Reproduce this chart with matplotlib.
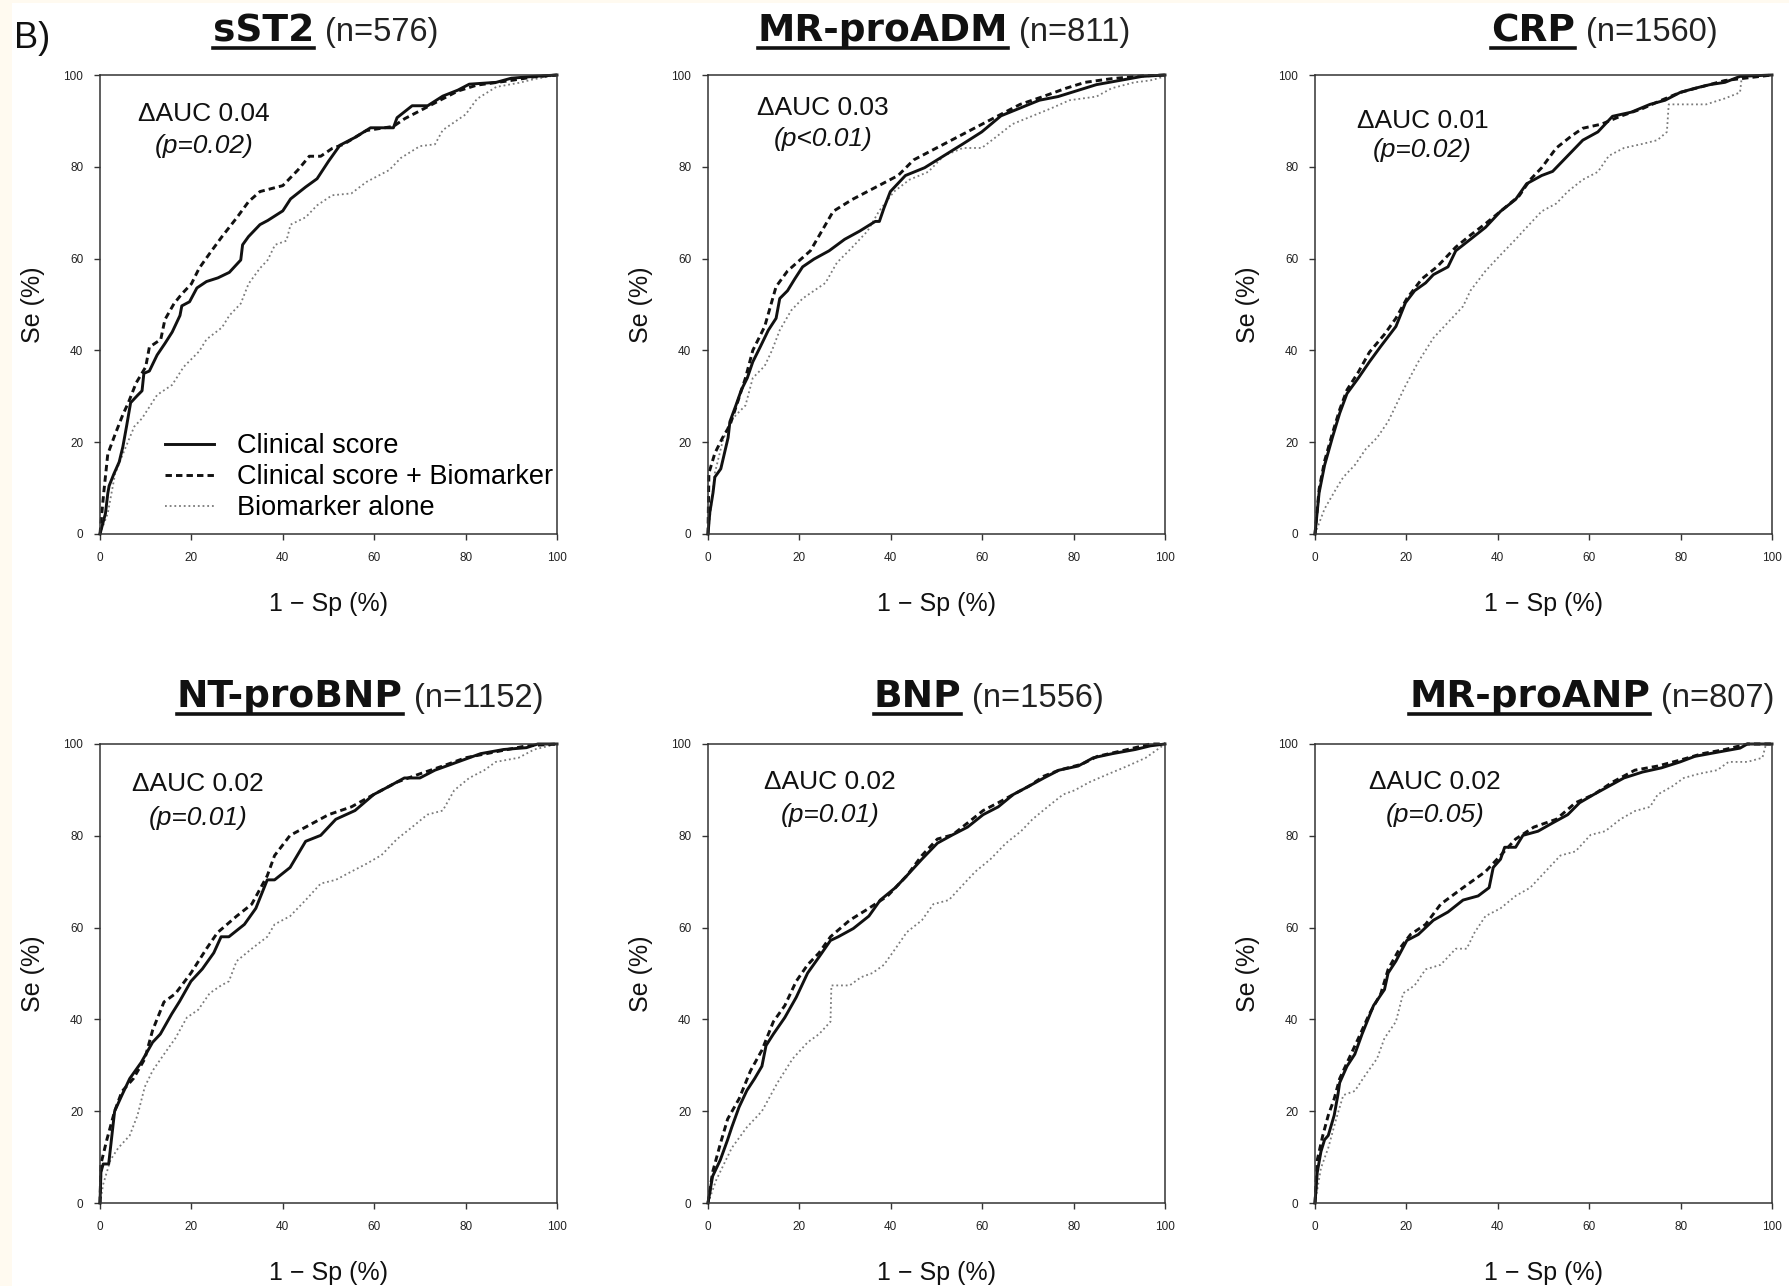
import matplotlib
matplotlib.use('Agg')
import matplotlib.pyplot as plt
from matplotlib.lines import Line2D
from matplotlib.patches import Rectangle

plt.rcParams['font.family'] = ['Liberation Sans', 'DejaVu Sans']

# ROC points: (1 - Sp %, Se %)
sst2_clin = [(0, 0), (1.2, 4.5), (1.7, 8.8), (2, 10.5), (3, 13), (4.2, 15.7), (5, 19), (5.8, 23.4),
             (6.7, 28.6), (8.3, 30.3), (9.2, 31.2), (9.6, 35), (10.8, 35.5), (12.5, 39), (14.2, 41.5),
             (15.8, 44), (17.5, 47.6), (17.9, 49.7), (19.6, 50.6), (21.2, 53.6), (23.3, 55), (25.8, 55.8),
             (28.3, 57), (30.8, 59.7), (31.2, 63), (32.5, 64.8), (35, 67.4), (36.7, 68.3), (40, 70.4),
             (41.7, 73), (45, 75.6), (47.5, 77.4), (50, 81.2), (52.5, 84.7), (55.8, 86.4), (59.2, 88.5),
             (64.2, 88.5), (65, 90.7), (68.3, 93.3), (71.7, 93.3), (75, 95.4), (78.3, 96.7), (80.8, 98),
             (86.7, 98.4), (90, 99.3), (95, 99.7), (100, 100)]
sst2_comb = [(0, 0), (0.4, 4.5), (0.8, 8.8), (1.7, 17.4), (3.3, 21.7), (5, 26), (6.2, 28.6), (7.9, 32.9),
             (10, 36.4), (10.8, 40.7), (13.3, 42.4), (14.2, 46.7), (16.2, 50.2), (17.9, 52.3), (20, 54.5),
             (21.7, 57.9), (24.2, 61.4), (26.7, 64.8), (30, 69), (32.5, 72.4), (35, 74.6), (40, 75.9),
             (43.3, 79.3), (45.8, 82.3), (48.3, 82.3), (50.8, 84), (53.3, 84.9), (58.3, 87.9), (64.2, 88.8),
             (66.7, 90.5), (70, 92.2), (74.2, 94.4), (78.3, 96.5), (82.5, 97.8), (89.2, 98.7), (95, 99.6),
             (100, 100)]
sst2_bio = [(0, 0), (1.7, 4.5), (3.3, 13.1), (5, 17.4), (7.5, 23.4), (9.2, 25.2), (12.5, 30.3), (15.8, 32.5),
            (18.3, 36.4), (21.7, 39.8), (23.3, 42.4), (26.7, 45), (28.3, 47.6), (30.8, 50.2), (32.5, 54.5),
            (35, 57.9), (36.7, 59.7), (38.3, 63), (40.8, 63.9), (41.7, 67.4), (45, 69), (47.5, 71.6),
            (50.8, 73.8), (55, 74.2), (58.3, 76.7), (63.3, 79.3), (65.8, 81.9), (70, 84.5), (73.3, 84.9),
            (75, 88), (80, 91.4), (82.5, 94.8), (86.7, 97.4), (91.7, 98.3), (95, 99.1), (100, 100)]

adm_clin = [(0, 0), (0.4, 4.7), (1.1, 9), (1.5, 12.4), (2.8, 14.2), (3.6, 17.6), (4.4, 21), (4.8, 24.5),
            (6.1, 28), (7.3, 31.4), (8.6, 34), (9.8, 37.5), (11.5, 40.9), (13.2, 44.4), (14.9, 47),
            (15.7, 51.3), (17.4, 53), (19, 55.6), (20.7, 58.2), (23.2, 59.9), (26.5, 61.7), (29.9, 64.2),
            (33.2, 66), (36.6, 68.1), (37.5, 68.1), (38.5, 71), (39.9, 74.6), (43.2, 78.1), (47.4, 79.8),
            (51.6, 82.4), (55.8, 85), (59.9, 87.6), (64.1, 91.1), (68.3, 92.8), (72.5, 94.5), (76.6, 95.3),
            (80.8, 96.6), (85, 97.9), (90, 98.8), (95, 99.7), (100, 100)]
adm_comb = [(0, 0), (0.2, 13.3), (1.5, 17.6), (3.2, 21), (4.8, 23.7), (6.5, 28.8), (8.2, 34), (9.8, 40),
            (12.4, 45.2), (14.9, 53.9), (17.4, 57.3), (19.9, 59.5), (22.4, 61.7), (24.9, 66), (27.4, 70.3),
            (31.6, 72.9), (36.6, 75.5), (41.6, 78.1), (45, 81.5), (50, 84.1), (55, 86.7), (60, 89.3),
            (65, 91.9), (68.3, 93.6), (73.3, 95.3), (78.3, 97.1), (82.5, 98.4), (88.3, 99.2), (95, 99.8),
            (100, 100)]
adm_bio = [(0, 0), (1.5, 13.3), (3.2, 20.2), (4.8, 24.5), (6.5, 26.3), (8.2, 28), (9.8, 34), (12.4, 36.6),
           (14, 40), (15.7, 44.4), (18.2, 48.7), (20.7, 51.3), (23.2, 53), (25.7, 54.7), (28.2, 59.1),
           (31.6, 62.5), (34.9, 66), (37.4, 70.3), (40.7, 74.6), (44.1, 77.2), (48.2, 78.9), (51.6, 82.4),
           (55.8, 84.1), (59.9, 84.1), (63.3, 86.7), (66.6, 89.3), (70.8, 91), (75, 92.7), (79.1, 94.5),
           (85, 95.3), (88.3, 97.1), (93.3, 98.4), (96.7, 98.8), (100, 99.7)]

crp_clin = [(0, 0), (0.9, 9), (2.1, 15), (3.8, 21), (5.4, 26.3), (7, 30.6), (9.5, 34), (11.9, 37.5),
            (14.4, 40.9), (17.7, 45.2), (19.8, 50.4), (21.8, 53), (24.2, 54.7), (25.9, 56.5), (29.1, 58.2),
            (30.8, 61.7), (34, 64.2), (37.3, 66.8), (40.6, 70.3), (43.9, 72.9), (46.3, 76.3), (49.6, 78.1),
            (52, 79), (55.3, 82.4), (58.6, 85.8), (61.9, 87.6), (65.1, 91), (69.2, 91.9), (73.3, 93.6),
            (76.6, 94.5), (79.9, 96.2), (83.1, 97.1), (86.4, 97.9), (89.7, 98.4), (93, 99.7), (100, 100)]
crp_comb = [(0, 0), (0.9, 9.8), (2.1, 15.9), (3.8, 21.9), (5.4, 27.1), (7, 31.4), (9.5, 35.3), (11.9, 39.6),
            (15.2, 43.5), (17.7, 47), (20.1, 51.3), (23.4, 55.6), (26.7, 58.2), (30.8, 62.5), (34, 65.1),
            (37.3, 67.6), (40.6, 70.3), (44.7, 73.7), (47.1, 77.2), (49.6, 79.8), (52.8, 84.1), (56.1, 86.7),
            (58.6, 88.4), (62.7, 89.3), (66.8, 91), (71.7, 92.7), (75.8, 94.5), (79.9, 96.2), (84.8, 97.5),
            (89.7, 98.8), (100, 100)]
crp_bio = [(0, 0), (2.1, 5.5), (4.6, 9.8), (6.2, 12.4), (8.7, 15), (11.1, 18.5), (13.6, 21), (16, 24.5),
           (17.7, 28), (19.8, 32.3), (22.6, 37.5), (25.9, 42.7), (29.1, 46.1), (32.4, 49.6), (34, 53),
           (37.3, 57.3), (40.6, 60.8), (43.9, 64.2), (46.3, 66.8), (49.6, 70.3), (52.8, 72), (55.3, 74.6),
           (58.6, 77.2), (61.9, 78.9), (64.3, 82.4), (67.6, 84.1), (71.7, 85), (74.9, 85.8), (77, 87.6),
           (77.4, 93.6), (85.6, 93.6), (89.7, 94.9), (93, 96.2), (93.4, 99.7), (100, 100)]

ntp_clin = [(0, 0), (0.2, 6.7), (0.7, 8.5), (1.9, 8.5), (3.2, 20), (4.8, 23.5), (6.5, 27.1), (9, 30.6),
            (11.5, 35), (13.2, 36.8), (15.7, 41.2), (17.4, 43.9), (19.9, 48.3), (22.4, 51), (24.9, 54.5),
            (26.5, 58), (28.2, 58), (31.6, 60.7), (34.1, 64.2), (36.6, 70.4), (38.2, 70.4), (41.6, 73.1),
            (45, 78.8), (48.3, 80.1), (51.6, 83.6), (55.8, 85.5), (59.9, 89), (63.3, 90.8), (66.6, 92.6),
            (70, 92.6), (73.3, 94.3), (78.3, 96.1), (83.3, 97.9), (88.3, 98.8), (93.3, 99.2), (95.8, 100),
            (100, 100)]
ntp_comb = [(0, 0), (0.2, 8.5), (1.5, 13.8), (3.2, 20), (4.8, 24.3), (7.3, 27.1), (9.8, 31.4), (11.5, 37.6),
            (14, 43.8), (16.5, 45.6), (19.9, 50.1), (23.3, 55.4), (25.7, 58.9), (29.9, 62.5), (33.2, 65.1),
            (36.6, 71.3), (38.2, 75.7), (41.6, 80.1), (45, 81.9), (50, 84.6), (55, 86.3), (59.9, 89),
            (65, 91.7), (70, 93.5), (75, 95.2), (80, 97), (86.6, 98.3), (93.3, 99.6), (100, 100)]
ntp_bio = [(0, 0), (0.7, 4.1), (2.3, 9.4), (4, 12), (6.5, 14.7), (8.2, 19.1), (9.8, 25.3), (11.5, 28.8),
           (14, 32.4), (16.5, 35.9), (19, 40.4), (21.5, 42.1), (24, 45.7), (26.5, 47.4), (28.2, 48.3),
           (29.9, 52.7), (33.2, 55.4), (36.6, 58), (38.2, 60.7), (41.6, 62.5), (45, 66), (48.3, 69.6),
           (51.6, 70.4), (55, 72.2), (58.3, 73.9), (61.6, 75.8), (65, 79.3), (68.3, 81.9), (71.6, 84.6),
           (75, 85.5), (77.5, 89.9), (80.8, 92.6), (84.1, 94.3), (86.6, 96.1), (91.6, 97), (95, 98.8),
           (100, 100)]

bnp_clin = [(0, 0), (1, 5.8), (2.7, 9.4), (4.3, 13.8), (5.2, 16.5), (6.8, 20.9), (8.5, 24.5), (10.2, 27.1),
            (11.8, 29.8), (12.7, 34.3), (14.3, 36.8), (16.8, 40.4), (19.3, 44.8), (21.8, 50.1), (24.3, 53.6),
            (26.8, 57.2), (28.5, 58), (31.8, 59.8), (35.2, 62.5), (37.7, 66), (41, 68.7), (43.5, 71.3),
            (46.8, 74.9), (50.2, 78.4), (53.5, 80.2), (56.8, 81.9), (60.2, 84.6), (63.5, 86.3), (66.8, 89),
            (70.2, 90.8), (73.5, 92.6), (76.8, 94.3), (81, 95.2), (84.3, 97), (88.5, 97.9), (93.5, 98.8),
            (96.8, 99.6), (100, 100)]
bnp_comb = [(0, 0), (1, 6.7), (2.7, 12.9), (4.3, 18.3), (6.8, 22.7), (9.3, 28.8), (11.8, 33.3), (14.3, 39.5),
            (16.8, 43), (19.3, 48.3), (21.8, 51.9), (24.3, 54.5), (26.8, 58), (31, 61.6), (35.2, 64.2),
            (39.3, 66.9), (43.5, 71.3), (46.8, 75.7), (50.2, 79.3), (53.5, 80.2), (56.8, 82.8), (60.2, 85.5),
            (63.5, 87.2), (66.8, 89), (70.2, 90.8), (73.5, 93), (76.8, 94.3), (81.8, 95.6), (85.2, 97.3),
            (91.8, 98.8), (96.8, 100), (100, 100)]
bnp_bio = [(0, 0), (1.8, 5), (5.2, 12), (8.5, 16.5), (11.8, 20), (15.2, 26.2), (18.5, 31.4), (21.8, 35),
           (24.3, 36.8), (26.8, 39.5), (27, 47.4), (31, 47.4), (33.5, 49.2), (36, 50.1), (38.5, 51.9),
           (41, 55.4), (43.5, 59), (46.8, 61.6), (49.3, 65.1), (52.7, 66), (55.2, 68.7), (58.5, 72.2),
           (61.8, 74.9), (65.2, 78.4), (68.5, 81), (71, 83.6), (74.3, 86.3), (77.7, 89), (80.2, 89.9),
           (83.5, 91.7), (87.7, 93.5), (91.8, 95.2), (95.8, 97), (100, 100)]

anp_clin = [(0, 0), (0.5, 6.7), (1.3, 11.2), (2.1, 13.8), (2.9, 14.7), (4.2, 19.1), (5, 23.5), (5.4, 26.2),
            (7, 29.8), (8.7, 32.4), (10.3, 36.8), (12.8, 43), (15.2, 46.5), (16, 50.1), (17.7, 52.7),
            (20.1, 57.2), (22.6, 58.5), (25.9, 61.6), (29.1, 63.4), (32.4, 66), (35.7, 66.9), (38.1, 68.7),
            (39, 73.1), (40.6, 74.9), (41.5, 77.5), (43.9, 77.5), (45.5, 80.1), (48.8, 81), (52, 82.8),
            (55.3, 84.6), (57.9, 87.2), (61, 89), (64.3, 90.8), (67.6, 92.6), (71.7, 93.9), (75.8, 94.8),
            (79.9, 96.1), (83.1, 97.3), (88, 98.2), (93, 99.1), (94.6, 100), (100, 100)]
anp_comb = [(0, 0), (0.5, 9.4), (1.7, 14.7), (2.9, 19.1), (4.2, 22.7), (5.4, 27.1), (7.4, 31.4), (9.5, 35.9),
            (11.9, 41.2), (14.4, 45.6), (16, 50.9), (18.5, 55.4), (20.9, 58.5), (24.2, 60.7), (27.5, 65.1),
            (32.4, 68.7), (37.3, 72.2), (40.6, 75.7), (43.9, 79.3), (47.9, 81.9), (52.8, 83.6), (57, 87.2),
            (61, 89), (65.1, 91.7), (70, 94.3), (75, 95.2), (79.9, 96.5), (84.8, 97.9), (89.7, 98.8),
            (94.6, 100), (100, 100)]
anp_bio = [(0, 0), (1.3, 7.6), (2.9, 12), (4.6, 18.2), (6.2, 23.5), (8.7, 24.4), (11.1, 28), (13.6, 31.5),
           (15.2, 35.9), (17.7, 39.5), (19.3, 45.7), (21.8, 47.4), (24.2, 50.9), (27.5, 51.9), (30.8, 55.4),
           (33.2, 55.4), (34.9, 58.9), (37.3, 62.5), (40.6, 64.2), (43.9, 66.9), (47.1, 68.7), (50.4, 72.2),
           (53.7, 75.7), (57, 76.6), (60.3, 80.2), (63.5, 81), (66.8, 83.6), (70, 85.4), (73.3, 86.3),
           (75, 89), (78.2, 90.8), (80.7, 92.6), (84, 93.5), (88, 94.3), (90.5, 96.1), (94.6, 96.1),
           (97.9, 97), (98.7, 100), (100, 100)]

markers = ['sST2', 'MR-proADM', 'CRP', 'NT-proBNP', 'BNP', 'MR-proANP']
n_pat = [576, 811, 1560, 1152, 1556, 807]
delta_auc = ['0.04', '0.03', '0.01', '0.02', '0.02', '0.02']
p_vals = ['p=0.02', 'p<0.01', 'p=0.02', 'p=0.01', 'p=0.01', 'p=0.05']
clin_curves = [sst2_clin, adm_clin, crp_clin, ntp_clin, bnp_clin, anp_clin]
comb_curves = [sst2_comb, adm_comb, crp_comb, ntp_comb, bnp_comb, anp_comb]
bio_curves = [sst2_bio, adm_bio, crp_bio, ntp_bio, bnp_bio, anp_bio]

W, H = 1789, 1286
# axes boxes in pixels: left, top, width, height
col_left = [100, 708, 1315]
col_w = 457
row_top = [75, 744]
row_h = 459
title_cx = [326, 944, 1604, 360, 989, 1592]
title_base = [41, 41, 41, 707, 707, 707]
note_pos = [(22.7, 91.5, 84.6), (25.2, 92.8, 86), (23.5, 90, 83.7),
            (21.5, 91.2, 83.8), (26.7, 91.8, 84.6), (26.2, 91.8, 84.6)]

INK = '#111111'

fig = plt.figure(figsize=(W / 100, H / 100), dpi=100)
fig.patch.set_facecolor('white')
fig.patches.append(Rectangle((0, 0), 12 / W, 1, transform=fig.transFigure,
                             facecolor='#fffaf0', edgecolor='none', zorder=-5))
fig.patches.append(Rectangle((0, 1 - 3 / H), 1, 3 / H, transform=fig.transFigure,
                             facecolor='#fffaf0', edgecolor='none', zorder=-5))

renderer = fig.canvas.get_renderer()

for i in range(6):
    l = col_left[i % 3]
    t = row_top[i // 3]
    ax = fig.add_axes([l / W, 1 - (t + row_h) / H, col_w / W, row_h / H])

    for pts, ls, lw, col in [(bio_curves[i], ':', 1.3, '#7a7a7a'),
                             (comb_curves[i], '--', 2.1, INK),
                             (clin_curves[i], '-', 2.1, INK)]:
        xs = [p[0] for p in pts]
        ys = [p[1] for p in pts]
        line, = ax.plot(xs, ys, linestyle=ls, lw=lw, color=col, clip_on=False)
        if ls == '--':
            line.set_dashes((2.2, 1.4))
        if ls == ':':
            line.set_dashes((1, 1.6))

    ax.set_xlim(0, 100)
    ax.set_ylim(0, 100)
    ax.set_xticks(range(0, 101, 20))
    ax.set_yticks(range(0, 101, 20))
    ax.tick_params(direction='out', length=4, width=1, labelsize=8.5,
                   colors='#333333', labelcolor='#222222')
    ax.tick_params(axis='x', pad=9)
    ax.tick_params(axis='y', pad=8)
    for sp in ax.spines.values():
        sp.set_linewidth(1.1)
        sp.set_color('#333333')
    ax.set_xlabel('1 \u2212 Sp (%)', fontsize=18, color=INK, labelpad=20)
    ax.set_ylabel('Se (%)', fontsize=18, color=INK, labelpad=13)

    nx, ny1, ny2 = note_pos[i]
    ax.text(nx, ny1, '\u0394AUC ' + delta_auc[i], fontsize=19, color=INK,
            ha='center', va='center')
    ax.text(nx, ny2, '(' + p_vals[i] + ')', fontsize=19, color=INK,
            ha='center', va='center', style='italic')

    # title: bold underlined marker name + (n=...)
    yb = 1 - title_base[i] / H
    t1 = fig.text(0, yb, markers[i], fontsize=27, fontweight='bold',
                  family='DejaVu Sans', color=INK, va='baseline')
    t2 = fig.text(0, yb, '(n=%d)' % n_pat[i], fontsize=23.5, color='#222222',
                  va='baseline')
    w1 = t1.get_window_extent(renderer).width
    w2 = t2.get_window_extent(renderer).width
    gap = 11
    x0 = title_cx[i] - (w1 + gap + w2) / 2
    t1.set_x(x0 / W)
    t2.set_x((x0 + w1 + gap) / W)
    uy = 1 - (title_base[i] + 7) / H
    fig.add_artist(Line2D([x0 / W, (x0 + w1) / W], [uy, uy], transform=fig.transFigure,
                          color=INK, lw=2.6))

    if i == 0:
        handles = [Line2D([], [], color=INK, lw=2.1, linestyle='-'),
                   Line2D([], [], color=INK, lw=2.1, dashes=(2.2, 1.4)),
                   Line2D([], [], color='#7a7a7a', lw=1.3, dashes=(1, 1.6))]
        ax.legend(handles, ['Clinical score', 'Clinical score + Biomarker', 'Biomarker alone'],
                  loc='lower left', bbox_to_anchor=(0.142, 0.028), frameon=False,
                  fontsize=19.5, handlelength=1.8, handletextpad=0.85,
                  labelspacing=0.18, borderpad=0, borderaxespad=0)

fig.text(14 / W, 1 - 38 / H, 'B)', fontsize=26, color=INK, va='center', ha='left')

fig.savefig('out.png', dpi=100)
